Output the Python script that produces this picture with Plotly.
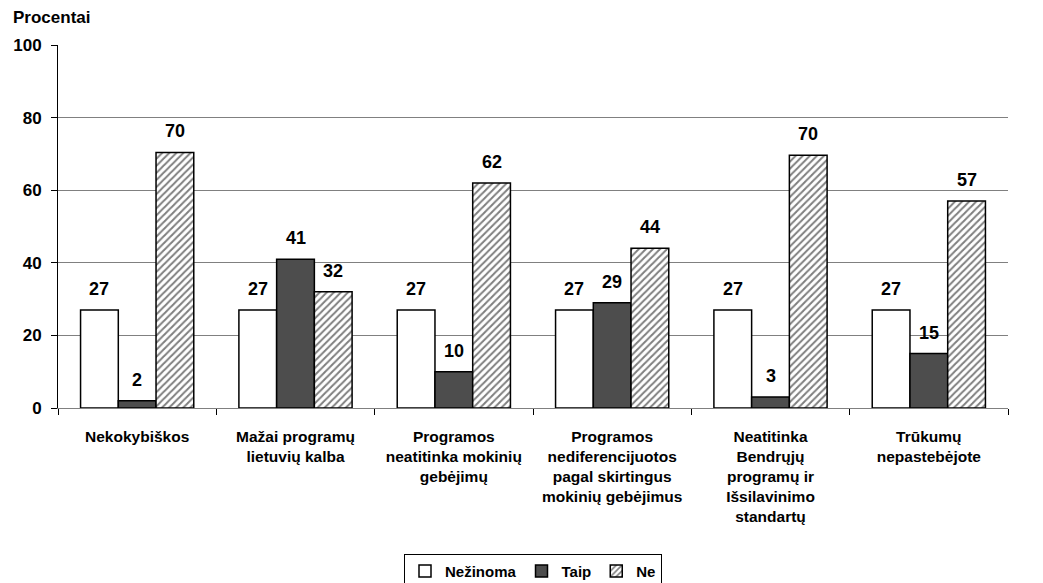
import plotly.graph_objects as go

categories = ["Nekokybiškos", "Mažai programų<br>lietuvių kalba", "Programos<br>neatitinka mokinių<br>gebėjimų",
              "Programos<br>nediferencijuotos<br>pagal skirtingus<br>mokinių gebėjimus",
              "Neatitinka<br>Bendrųjų<br>programų ir<br>Išsilavinimo<br>standartų", "Trūkumų<br>nepastebėjote"]
nezinoma = [27, 27, 27, 27, 27, 27]
taip = [2, 41, 10, 29, 3, 15]
ne = [70.4, 32, 62, 44, 69.6, 57]
y_ticks = [0, 20, 40, 60, 80, 100]

font_family = "Liberation Sans, Arial, sans-serif"
lbl_font = dict(family=font_family, size=18, color="black", weight="bold")
BARGAP = 0.285

series = [
    ("Nežinoma", nezinoma, dict(color="white", line=dict(color="black", width=1.5))),
    ("Taip", taip, dict(color="#4d4d4d", line=dict(color="black", width=1.5))),
    ("Ne", ne, dict(color="white", line=dict(color="black", width=1.5),
                    pattern=dict(shape="/", fgcolor="black", bgcolor="white", size=5, solidity=0.4))),
]

fig = go.Figure()
annotations = []
n = len(series)
w = (1 - BARGAP) / n
for k, (name, vals, marker) in enumerate(series):
    fig.add_trace(go.Bar(name=name, x=categories, y=vals, marker=marker))
    for i, v in enumerate(vals):
        annotations.append(dict(x=i + (k - (n - 1) / 2) * w, y=v, xref="x", yref="y",
                                text=f"{v:.0f}", showarrow=False, yanchor="bottom", yshift=9,
                                font=lbl_font))

annotations.append(dict(text="<b>Procentai</b>", xref="paper", yref="paper", x=-0.049, y=1.077,
                        xanchor="left", yanchor="middle", showarrow=False,
                        font=dict(size=17, family=font_family)))

fig.update_layout(
    width=1043, height=583,
    margin=dict(l=50, r=43, t=37, b=183),
    plot_bgcolor="white", paper_bgcolor="white",
    barmode="group", bargap=BARGAP, bargroupgap=0,
    font=dict(family=font_family, color="black"),
    legend=dict(orientation="h", x=0.5, xanchor="center", y=0.034, yanchor="middle", yref="container",
                bordercolor="black", borderwidth=1, font=dict(size=15, weight="bold", family=font_family),
                itemwidth=30, tracegroupgap=0),
    annotations=annotations,
)
fig.update_yaxes(range=[0, 100], tickvals=y_ticks, showgrid=True, gridcolor="#808080", gridwidth=1,
                 showline=True, linecolor="black", linewidth=1, ticks="outside", ticklen=6, tickcolor="black",
                 ticklabelstandoff=6, automargin=False,
                 tickfont=dict(size=17, weight="bold", family=font_family), zeroline=False)
fig.update_xaxes(showline=True, linecolor="#808080", linewidth=1, ticks="outside", tickson="boundaries",
                 ticklen=6, tickcolor="black", ticklabelstandoff=14, automargin=False,
                 tickfont=dict(size=15.5, weight="bold", family=font_family))

fig.write_html("out.html")
